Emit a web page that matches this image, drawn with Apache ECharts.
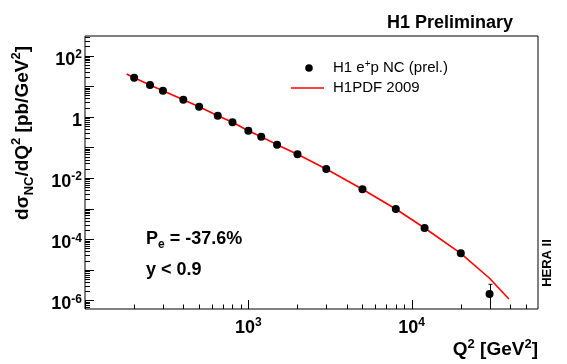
<!DOCTYPE html>
<html><head><meta charset="utf-8">
<script src="https://cdn.jsdelivr.net/npm/echarts@6/dist/echarts.min.js"></script>
<style>html,body{margin:0;padding:0;background:#fff}#c{width:567px;height:364px}</style>
</head><body><div id="c"></div>
<script>
// H1 e+p NC data (Q^2 in GeV^2, dsigma/dQ^2 in pb/GeV^2)
const dataQ2 = [200, 250, 300, 400, 500, 650, 800, 1000, 1200, 1500, 2000, 3000, 5000, 8000, 12000, 20000, 30000];
const dataXsec = [19.0, 10.9, 7.13, 3.62, 2.14, 1.09, 0.661, 0.351, 0.224, 0.123, 0.0595, 0.0197, 0.00428, 9.7e-4, 2.32e-4, 3.46e-5, 1.62e-6];
// visible error bars
const errQ2 = [30000];
const errLow = [3e-7];
const errHigh = [3.36e-6];
// H1PDF 2009 prediction
const fitQ2 = [180, 200, 250, 300, 400, 500, 650, 800, 1000, 1200, 1500, 2000, 3000, 5000, 8000, 12000, 20000, 30000, 39400];
const fitXsec = [25, 19.0, 10.9, 7.13, 3.62, 2.14, 1.09, 0.661, 0.351, 0.224, 0.123, 0.0595, 0.0197, 0.00428, 9.7e-4, 2.32e-4, 3.46e-5, 5.3e-6, 1.11e-6];
// axis ranges
const xMin = 100, xMax = 59400;
const yMin = 5.24e-7, yMax = 437;
// tick decades
const xDecades = [100, 1000, 10000];
const yDecades = [1e-7, 1e-6, 1e-5, 1e-4, 1e-3, 1e-2, 1e-1, 1, 10, 100];
const minorMult = [2, 3, 4, 5, 6, 7, 8, 9];

const FONT = '"Liberation Sans", Arial, Helvetica, sans-serif';

const xTicks = [];
xDecades.forEach(d => {
  xTicks.push([d, 1, 9]);
  minorMult.forEach(m => { if (d * m < xMax) xTicks.push([d * m, 1, 4.5]); });
});
const yTicks = [];
yDecades.forEach(d => {
  if (d > yMin && d < yMax) yTicks.push([1000, d, 9]);
  minorMult.forEach(m => { const v = d * m; if (v > yMin && v < yMax) yTicks.push([1000, v, 5]); });
});

function expOf(v) {
  const l = Math.log10(v);
  const r = Math.round(l);
  if (Math.abs(l - r) > 0.01) return null;
  return r;
}

const chart = echarts.init(document.getElementById('c'), null, { renderer: 'canvas' });
const labelRich = {
  b: { fontSize: 18, fontWeight: 'bold', fontFamily: FONT, color: '#000', lineHeight: 22 },
  s: { fontSize: 12, fontWeight: 'bold', fontFamily: FONT, color: '#000', lineHeight: 12, verticalAlign: 'top' }
};
const option = {
  backgroundColor: '#fff',
  animation: false,
  grid: { left: 85, top: 36, right: 29, bottom: 55, show: true, borderColor: '#000', borderWidth: 1, backgroundColor: 'transparent' },
  xAxis: {
    type: 'log', logBase: 10, min: xMin, max: xMax,
    axisLine: { show: false }, axisTick: { show: false }, splitLine: { show: false },
    axisLabel: {
      margin: 8, showMinLabel: false, showMaxLabel: false,
      formatter: v => { const e = expOf(v); if (e === null || e < 3 || e > 4) return ''; return '{b|10}{s|' + e + '}'; },
      rich: labelRich
    }
  },
  yAxis: {
    type: 'log', logBase: 10, min: yMin, max: yMax,
    axisLine: { show: false }, axisTick: { show: false }, splitLine: { show: false },
    axisLabel: {
      margin: 3, showMinLabel: false, showMaxLabel: false, padding: [8, 0, 0, 0],
      formatter: v => { const e = expOf(v); if (e === null || e % 2 !== 0) return ''; if (e === 0) return '{b|1}'; return '{b|10}{s|' + e + '}'; },
      rich: labelRich
    }
  },
  series: [
    {
      type: 'custom', silent: true, data: xTicks, encode: { x: 0, y: 1 }, z: 5,
      renderItem: (params, api) => {
        const cs = params.coordSys;
        const p = api.coord([api.value(0), 1]);
        const x = Math.round(p[0]) + 0.5;
        const yb = cs.y + cs.height;
        return { type: 'line', shape: { x1: x, y1: yb, x2: x, y2: yb - api.value(2) }, style: { stroke: '#000', lineWidth: 1 } };
      }
    },
    {
      type: 'custom', silent: true, data: yTicks, encode: { x: 0, y: 1 }, z: 5,
      renderItem: (params, api) => {
        const cs = params.coordSys;
        const p = api.coord([1000, api.value(1)]);
        const y = Math.round(p[1]) + 0.5;
        return { type: 'line', shape: { x1: cs.x, y1: y, x2: cs.x + api.value(2), y2: y }, style: { stroke: '#000', lineWidth: 1 } };
      }
    },
    {
      name: 'H1PDF 2009', type: 'line', data: fitQ2.map((q, i) => [q, fitXsec[i]]),
      symbol: 'none', lineStyle: { color: '#ff0000', width: 1.6 }, z: 3, silent: true
    },
    {
      type: 'custom', silent: true, z: 4,
      data: errQ2.map((q, i) => [q, errLow[i], errHigh[i]]), encode: { x: 0, y: [1, 2] },
      renderItem: (params, api) => {
        const cs = params.coordSys;
        const pt = api.coord([api.value(0), api.value(2)]);
        const pb = api.coord([api.value(0), api.value(1)]);
        const x = Math.round(pt[0]) + 0.5;
        const yb = Math.min(pb[1], cs.y + cs.height);
        return { type: 'group', children: [
          { type: 'line', shape: { x1: x, y1: pt[1], x2: x, y2: yb }, style: { stroke: '#000', lineWidth: 1 } },
          { type: 'line', shape: { x1: x - 2, y1: pt[1], x2: x + 2, y2: pt[1] }, style: { stroke: '#000', lineWidth: 1 } }
        ] };
      }
    },
    {
      name: 'H1 e+p NC (prel.)', type: 'scatter', data: dataQ2.map((q, i) => [q, dataXsec[i]]),
      symbol: 'circle', symbolSize: 8, itemStyle: { color: '#000', opacity: 1 }, z: 6, silent: true
    }
  ],
  graphic: [
    { type: 'text', x: 387, y: 23, style: { text: 'H1 Preliminary', font: 'bold 18px ' + FONT, fill: '#000', verticalAlign: 'middle', align: 'left' } },
    { type: 'circle', shape: { cx: 309, cy: 68, r: 3.8 }, style: { fill: '#000' } },
    { type: 'line', shape: { x1: 291, y1: 88, x2: 324, y2: 88 }, style: { stroke: '#ff0000', lineWidth: 1.5 } },
    { type: 'text', x: 333, y: 68, style: { text: '{m|H1 e}{s|+}{m|p NC (prel.)}', verticalAlign: 'middle', align: 'left',
        rich: { m: { fontSize: 15, fontFamily: FONT, fill: '#000', lineHeight: 18 }, s: { fontSize: 10, fontFamily: FONT, fill: '#000', lineHeight: 10, verticalAlign: 'top' } } } },
    { type: 'text', x: 333, y: 88, style: { text: 'H1PDF 2009', font: '15px ' + FONT, fill: '#000', verticalAlign: 'middle', align: 'left' } },
    { type: 'text', x: 146, y: 239, style: { text: '{m|P}{s|e}{m| = -37.6%}', verticalAlign: 'middle', align: 'left',
        rich: { m: { fontSize: 18, fontWeight: 'bold', fontFamily: FONT, fill: '#000', lineHeight: 24 }, s: { fontSize: 12, fontWeight: 'bold', fontFamily: FONT, fill: '#000', lineHeight: 12, verticalAlign: 'bottom' } } } },
    { type: 'text', x: 146, y: 270, style: { text: 'y < 0.9', font: 'bold 18px ' + FONT, fill: '#000', verticalAlign: 'middle', align: 'left' } },
    { type: 'text', x: 538, y: 350, style: { text: '{m|Q}{p|2}{m| [GeV}{p|2}{m|]}', verticalAlign: 'middle', align: 'right',
        rich: { m: { fontSize: 19, fontWeight: 'bold', fontFamily: FONT, fill: '#000', lineHeight: 24 }, p: { fontSize: 13, fontWeight: 'bold', fontFamily: FONT, fill: '#000', lineHeight: 13, verticalAlign: 'top' } } } },
    { type: 'text', x: 23, y: 133, rotation: Math.PI / 2, style: { text: '{m|d}{m|σ}{s|NC}{m|/dQ}{p|2}{m| [pb/GeV}{p|2}{m|]}', verticalAlign: 'middle', align: 'center',
        rich: { m: { fontSize: 19, fontWeight: 'bold', fontFamily: FONT, fill: '#000', lineHeight: 26 }, p: { fontSize: 13, fontWeight: 'bold', fontFamily: FONT, fill: '#000', lineHeight: 13, verticalAlign: 'top' }, s: { fontSize: 13, fontWeight: 'bold', fontFamily: FONT, fill: '#000', lineHeight: 13, verticalAlign: 'bottom' } } } },
    { type: 'text', x: 547, y: 263, rotation: Math.PI / 2, style: { text: 'HERA II', font: 'bold 13px ' + FONT, fill: '#000', verticalAlign: 'middle', align: 'center' } }
  ]
};
chart.setOption(option);
</script></body></html>
